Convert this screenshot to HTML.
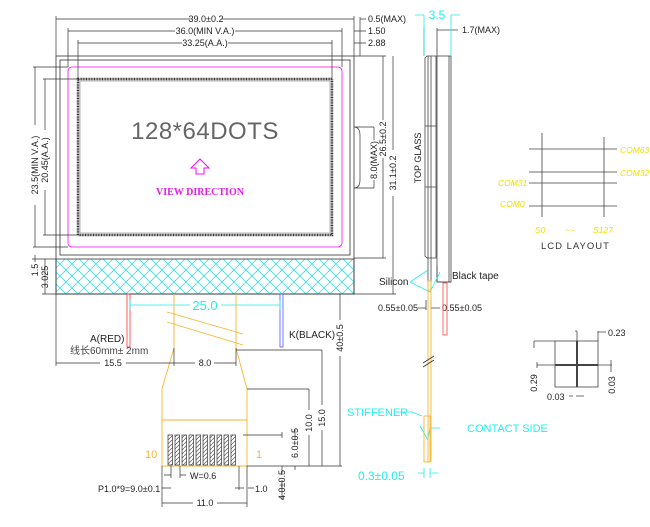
<!DOCTYPE html>
<html><head><style>
html,body{margin:0;padding:0;background:#fff;}
svg{display:block;font-family:"Liberation Sans",sans-serif;}
</style></head><body>
<svg width="650" height="527" viewBox="0 0 650 527" xmlns="http://www.w3.org/2000/svg">
<defs>
<pattern id="hatch" width="12" height="12" patternUnits="userSpaceOnUse">
<path d="M0,0 L12,12 M12,0 L0,12" stroke="#3ee0e6" stroke-width="0.8"/>
</pattern>
<pattern id="chatch" width="4" height="4" patternUnits="userSpaceOnUse">
<rect width="4" height="4" fill="#fff"/>
<path d="M0,4 L4,0" stroke="#555" stroke-width="0.7"/>
</pattern>
</defs>
<g fill="none" stroke="#333" stroke-width="0.8">
<rect x="56" y="56" width="298" height="238"/>
<rect x="60" y="60" width="290" height="195"/>
<rect x="68" y="67" width="274" height="180" rx="4" stroke="#f0f"/>
<rect x="78" y="79" width="254" height="156" stroke="#333" stroke-width="2.5" stroke-dasharray="1,0.6"/>
<rect x="80" y="81" width="250" height="152" stroke="#888" stroke-width="0.6"/>
</g>
<rect x="56" y="259" width="298" height="35" fill="url(#hatch)" stroke="#333" stroke-width="0.8"/>
<text x="205" y="139" font-size="24" fill="#666" text-anchor="middle" font-weight="300" letter-spacing="0.5">128*64DOTS</text>
<path d="M200,159 L191,168 L196,168 L196,174 L204,174 L204,168 L209,168 Z" fill="none" stroke="#f0f" stroke-width="1"/>
<text x="200" y="195" font-size="10" fill="#e020e0" text-anchor="middle" font-family="Liberation Serif,serif" font-weight="bold">VIEW  DIRECTION</text>

<g stroke="#333" stroke-width="0.7" fill="none">
<path d="M56,56 V16 M354,56 V16 M68,67 V28 M342,67 V28 M78,79 V40 M332,79 V40"/>
<path d="M56,19 H190 M222,19 H354 M68,31 H175 M235,31 H342 M78,43 H182 M228,43 H332"/>
<path d="M360,17 V56 M360,19 H366 M354,31 H366 M354,43 H366"/>
<path d="M354,127 H374 M354,188 H374 M374,127 V140 M374,180 V188 M354,127 q6,0 6,8 v45 q0,8 -6,8"/>
<path d="M354,56 H386 M354,258 H386 M383,56 V120 M383,158 V258"/>
<path d="M354,294 H396 M393,56 V150 M393,196 V294"/>
<path d="M33,67 H68 M33,247 H68 M35,67 V125 M35,205 V247"/>
<path d="M43,79 H78 M43,235 H78 M45,79 V130 M45,190 V235"/>
<path d="M32,259 H56 M42,294 H56 M35,255 V262 M45,259 V294"/>
</g>
<g font-size="9" fill="#222">
<text x="206" y="22" text-anchor="middle">39.0±0.2</text>
<text x="205" y="34" text-anchor="middle">36.0(MIN V.A.)</text>
<text x="205" y="46" text-anchor="middle">33.25(A.A.)</text>
<text x="368" y="22">0.5(MAX)</text>
<text x="368" y="34">1.50</text>
<text x="368" y="46">2.88</text>
<text transform="translate(377,160) rotate(-90)" text-anchor="middle">8.0(MAX)</text>
<text transform="translate(386,139) rotate(-90)" text-anchor="middle">26.5±0.2</text>
<text transform="translate(396,173) rotate(-90)" text-anchor="middle">31.1±0.2</text>
<text transform="translate(38,165) rotate(-90)" text-anchor="middle">23.5(MIN V.A.)</text>
<text transform="translate(48,160) rotate(-90)" text-anchor="middle">20.45(A.A.)</text>
<text transform="translate(38,270) rotate(-90)" text-anchor="middle">1.5</text>
<text transform="translate(48,277) rotate(-90)" text-anchor="middle">3.025</text>
</g>

<rect x="127" y="294" width="3" height="53" fill="none" stroke="#f33" stroke-width="0.8"/>
<rect x="280" y="294" width="3" height="53" fill="none" stroke="#55f" stroke-width="0.8"/>
<g stroke="#2ee" stroke-width="0.8"><path d="M130,305 H190 M221,305 H280 M130,300 V310 M280,300 V310"/></g>
<text x="205" y="310" font-size="13" fill="#2ee" text-anchor="middle">25.0</text>
<text x="90" y="342" font-size="10" fill="#222">A(RED)</text>
<text x="70" y="354" font-size="10" fill="#444" font-family="Liberation Sans,'Noto Sans CJK SC',sans-serif">线长60mm± 2mm</text>
<text x="289" y="338" font-size="10" fill="#222">K(BLACK)</text>

<g stroke="#f5b530" stroke-width="0.9" fill="none">
<path d="M174,294 V348 L162,389 V466 H247 V389 L236,348 V294"/>
<path d="M162,420 H247"/>
<path d="M167,312 L243,334 M167,322 L243,345"/>
</g>
<g fill="url(#chatch)" stroke="#333" stroke-width="0.7">
<rect x="168" y="435" width="4.5" height="30"/>
<rect x="175" y="435" width="4.5" height="30"/>
<rect x="182" y="435" width="4.5" height="30"/>
<rect x="189" y="435" width="4.5" height="30"/>
<rect x="196" y="435" width="4.5" height="30"/>
<rect x="203" y="435" width="4.5" height="30"/>
<rect x="210" y="435" width="4.5" height="30"/>
<rect x="217" y="435" width="4.5" height="30"/>
<rect x="224" y="435" width="4.5" height="30"/>
<rect x="231" y="435" width="4.5" height="30"/>
</g>
<text x="145" y="458" font-size="11" fill="#f5b530">10</text>
<text x="256" y="458" font-size="11" fill="#f5b530">1</text>
<g stroke="#333" stroke-width="0.7" fill="none">
<path d="M56,294 V366 M56,363 H100 M126,363 H174 M174,348 V366 M174,363 H195 M214,363 H236 M236,348 V366"/>
<path d="M236,350 H322 M322,350 V405 M322,430 V466"/>
<path d="M247,389 H309 M309,389 V410 M309,435 V466"/>
<path d="M243,435 H282 M282,432 V438 M295,430 V440 M295,466 V470"/>
<path d="M340,294 V320 M340,356 V466 M247,466 H342"/>
<path d="M282,466 V475 M282,480 V500"/>
<path d="M171,466 V478 M180,466 V478 M171,475 H164 M180,475 H186"/>
<path d="M162,466 V507 M247,466 V507 M162,503 H193 M217,503 H247"/>
<path d="M162,488 H171 M239,466 V490 M235,488 H244 M248,488 H254"/>
</g>
<g font-size="9" fill="#222">
<text x="113" y="366" text-anchor="middle">15.5</text>
<text x="205" y="366" text-anchor="middle">8.0</text>
<text x="190" y="479">W=0.6</text>
<text x="98" y="492">P1.0*9=9.0±0.1</text>
<text x="255" y="492">1.0</text>
<text x="205" y="506" text-anchor="middle">11.0</text>
<text transform="translate(343,338) rotate(-90)" text-anchor="middle">40±0.5</text>
<text transform="translate(325,418) rotate(-90)" text-anchor="middle">15.0</text>
<text transform="translate(312,423) rotate(-90)" text-anchor="middle">10.0</text>
<text transform="translate(298,443) rotate(-90)" text-anchor="middle">6.0±0.5</text>
<text transform="translate(285,485) rotate(-90)" text-anchor="middle">4.0±0.5</text>
</g>

<g stroke="#444" stroke-width="0.8" fill="none">
<path d="M425,58 L427,56 H436 V258 H427 L425,256 Z"/>
<path d="M428,56 V258 M431,56 V258 M425,126 H436 M425,187 H436"/>
<rect x="437" y="56" width="14" height="226"/>
<path d="M449,56 V282 M437,266 V282 M437,282 H451"/>
<path d="M428,258 V290 M431,258 V290"/>
<path d="M424,28 V56 M437,28 V56 M437,30 H458"/>
<path d="M426,300 V310 M431,300 V310 M418,308 H426 M431,308 H440"/>
</g>
<g stroke="#2ee" stroke-width="0.8" fill="none">
<path d="M424,15 V56 M451,15 V56 M415,15 H424 M451,15 H460"/>
<path d="M410,282 L428,270 M410,282 L430,292 L440,272"/>
<path d="M394,412 H412 L422,416 M420,426 L428,440 M440,428 H430 L428,438"/>
<path d="M418,473 H424 M430,473 H438 M424,468 V478 M430,468 V478"/>
</g>
<text x="437" y="19" font-size="12" fill="#2ee" text-anchor="middle">3.5</text>
<text x="462" y="33" font-size="9" fill="#222">1.7(MAX)</text>
<text transform="translate(421,158) rotate(-90)" font-size="9" fill="#222" text-anchor="middle">TOP  GLASS</text>
<text x="379" y="285" font-size="10" fill="#222">Silicon</text>
<text x="452" y="279" font-size="10" fill="#222">Black tape</text>
<text x="378" y="311" font-size="9" fill="#222">0.55±0.05</text>
<text x="442" y="311" font-size="9" fill="#222">0.55±0.05</text>
<g stroke="#f5b530" stroke-width="0.9" fill="none">
<path d="M428,282 V462 M431,282 V462"/>
<rect x="428" y="281" width="3" height="9"/>
<rect x="424" y="416" width="6" height="46"/>
</g>
<rect x="443" y="283" width="4" height="52" fill="none" stroke="#f44" stroke-width="0.8"/>
<path d="M423,363 L434,356 M423,367 L434,360" stroke="#333" stroke-width="0.8"/>
<text x="347" y="416" font-size="11" fill="#2ee">STIFFENER</text>
<text x="467" y="432" font-size="11" fill="#2ee">CONTACT  SIDE</text>
<text x="358" y="480" font-size="12" fill="#2ee">0.3±0.05</text>

<g stroke="#444" stroke-width="0.8">
<path d="M529,149 H617 M529,172 H617 M529,183 H617 M529,206 H617 M542,133 V217 M604,137 V217"/>
</g>
<g font-size="8.5" fill="#f0e000" font-style="italic">
<text x="620" y="153">COM63</text>
<text x="620" y="176">COM32</text>
<text x="498" y="186">COM31</text>
<text x="500" y="207">COM0</text>
<text x="535" y="233">S0</text>
<text x="565" y="233">~~</text>
<text x="593" y="233">S127</text>
</g>
<text x="541" y="249" font-size="9.5" fill="#333" letter-spacing="1">LCD  LAYOUT</text>

<g stroke="#444" stroke-width="0.8" fill="none">
<rect x="555" y="341" width="43" height="46"/>
<path d="M577,341 V387 M555,365 H598" stroke-width="2"/>
<path d="M534,341 V348 M534,341 H555 M537,365 H555 M537,362 V368"/>
<path d="M577,331 V341 M598,331 V341 M577,331 H575 M598,332 H606"/>
<path d="M598,365 H612 M611,360 V372"/>
<path d="M576,396 H584 M569,396 H573"/>
</g>
<g font-size="9" fill="#222">
<text x="608" y="336">0.23</text>
<text transform="translate(537,383) rotate(-90)" text-anchor="middle">0.29</text>
<text x="547" y="400">0.03</text>
<text transform="translate(615,385) rotate(-90)" text-anchor="middle">0.03</text>
</g>
</svg>
</body></html>
